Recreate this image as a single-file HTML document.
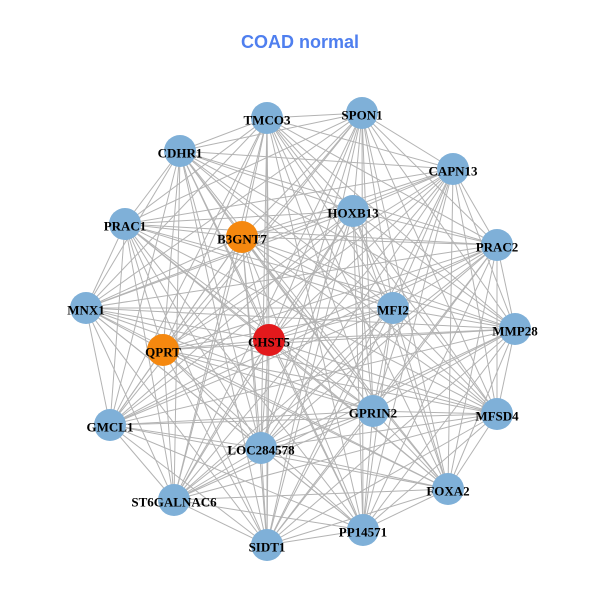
<!DOCTYPE html>
<html><head><meta charset="utf-8"><style>
html,body{margin:0;padding:0;background:#fff;}
svg{display:block;}
text.l{font-family:"Liberation Serif",serif;font-weight:bold;font-size:13px;fill:#000;text-anchor:middle;dominant-baseline:central;}
</style></head><body>
<svg id="s" width="600" height="600" xmlns="http://www.w3.org/2000/svg">
<rect width="600" height="600" fill="#fff"/>
<text x="300" y="42" font-family="Liberation Sans, sans-serif" font-weight="bold" font-size="18" fill="#4f7fef" text-anchor="middle" dominant-baseline="central">COAD normal</text>
<g id="e" stroke="#b3b3b3" stroke-width="1"></g>
<g id="n">
<circle cx="267" cy="118" r="16" fill="#7fb0d8"/>
<circle cx="362" cy="113" r="16" fill="#7fb0d8"/>
<circle cx="180" cy="151" r="16" fill="#7fb0d8"/>
<circle cx="453" cy="169" r="16" fill="#7fb0d8"/>
<circle cx="353" cy="211" r="16" fill="#7fb0d8"/>
<circle cx="125" cy="224" r="16" fill="#7fb0d8"/>
<circle cx="242" cy="237" r="16" fill="#f5880f"/>
<circle cx="497" cy="245" r="16" fill="#7fb0d8"/>
<circle cx="86" cy="308" r="16" fill="#7fb0d8"/>
<circle cx="393" cy="308" r="16" fill="#7fb0d8"/>
<circle cx="515" cy="329" r="16" fill="#7fb0d8"/>
<circle cx="269" cy="340" r="16" fill="#e3191c"/>
<circle cx="163" cy="350" r="16" fill="#f5880f"/>
<circle cx="373" cy="411" r="16" fill="#7fb0d8"/>
<circle cx="497" cy="414" r="16" fill="#7fb0d8"/>
<circle cx="110" cy="425" r="16" fill="#7fb0d8"/>
<circle cx="261" cy="448" r="16" fill="#7fb0d8"/>
<circle cx="448" cy="489" r="16" fill="#7fb0d8"/>
<circle cx="174" cy="500" r="16" fill="#7fb0d8"/>
<circle cx="363" cy="530" r="16" fill="#7fb0d8"/>
<circle cx="267" cy="545" r="16" fill="#7fb0d8"/>
</g>
<g>
<text class="l" x="267" y="120">TMCO3</text>
<text class="l" x="362" y="115">SPON1</text>
<text class="l" x="180" y="153">CDHR1</text>
<text class="l" x="453" y="171">CAPN13</text>
<text class="l" x="353" y="213">HOXB13</text>
<text class="l" x="125" y="226">PRAC1</text>
<text class="l" x="242" y="239">B3GNT7</text>
<text class="l" x="497" y="247">PRAC2</text>
<text class="l" x="86" y="310">MNX1</text>
<text class="l" x="393" y="310">MFI2</text>
<text class="l" x="515" y="331">MMP28</text>
<text class="l" x="269" y="342">CHST5</text>
<text class="l" x="163" y="352">QPRT</text>
<text class="l" x="373" y="413">GPRIN2</text>
<text class="l" x="497" y="416">MFSD4</text>
<text class="l" x="110" y="427">GMCL1</text>
<text class="l" x="261" y="450">LOC284578</text>
<text class="l" x="448" y="491">FOXA2</text>
<text class="l" x="174" y="502">ST6GALNAC6</text>
<text class="l" x="363" y="532">PP14571</text>
<text class="l" x="267" y="547">SIDT1</text>
</g>
</svg>
<script>
var c=document.querySelectorAll('#n circle'),g=document.getElementById('e'),p=[];
c.forEach(function(k){p.push([+k.getAttribute('cx'),+k.getAttribute('cy')]);});
for(var i=0;i<p.length;i++)for(var j=i+1;j<p.length;j++){
var l=document.createElementNS('http://www.w3.org/2000/svg','line');
l.setAttribute('x1',p[i][0]);l.setAttribute('y1',p[i][1]);l.setAttribute('x2',p[j][0]);l.setAttribute('y2',p[j][1]);g.appendChild(l);}
</script>
</body></html>
